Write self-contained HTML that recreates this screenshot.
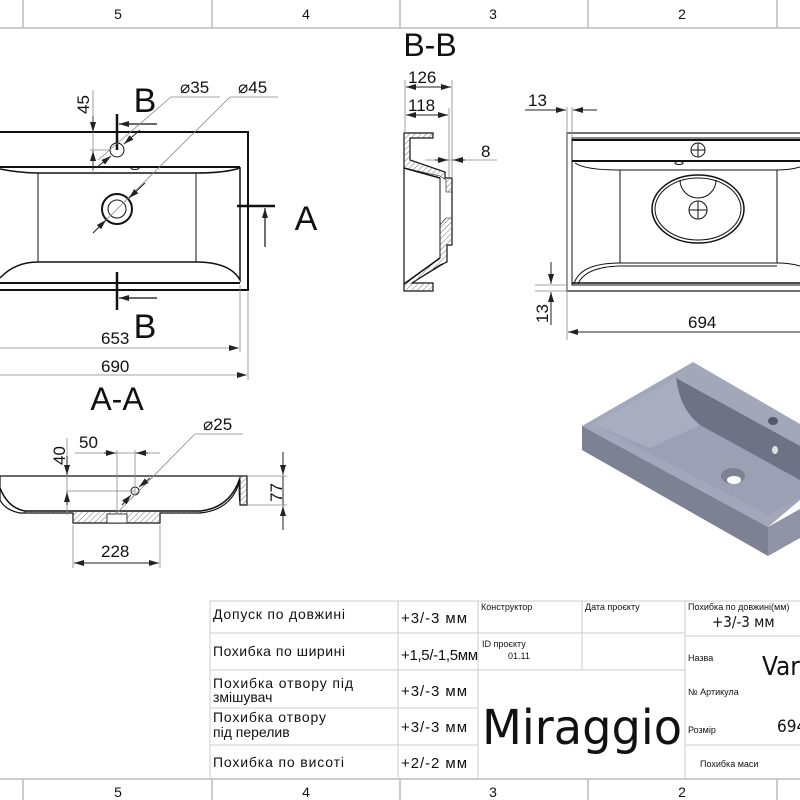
<!DOCTYPE html>
<html><head><meta charset="utf-8"><style>
html,body{margin:0;padding:0;background:#fff}
svg{display:block}
text{font-family:"Liberation Sans",sans-serif;fill:#111}
.t{font-family:"DejaVu Sans Condensed","DejaVu Sans","Liberation Sans",sans-serif}
</style></head><body>
<svg width="800" height="800" viewBox="0 0 800 800" xmlns="http://www.w3.org/2000/svg">
<defs>
<pattern id="h" width="4" height="4" patternUnits="userSpaceOnUse" patternTransform="rotate(45)">
<line x1="0" y1="0" x2="0" y2="4" stroke="#777" stroke-width="1"/></pattern>
<marker id="a" viewBox="0 0 10 6" refX="10" refY="3" markerWidth="10" markerHeight="6" orient="auto-start-reverse" markerUnits="userSpaceOnUse"><path d="M0,0L10,3L0,6z" fill="#222"/></marker>
</defs>
<g stroke="#bbb" stroke-width="1.5" fill="none">
<line x1="0" y1="28" x2="800" y2="28"/>
<line x1="23" y1="0" x2="23" y2="28"/><line x1="212" y1="0" x2="212" y2="28"/><line x1="400" y1="0" x2="400" y2="28"/><line x1="588" y1="0" x2="588" y2="28"/><line x1="777" y1="0" x2="777" y2="28"/>
<line x1="0" y1="779" x2="800" y2="779"/>
<line x1="23" y1="779" x2="23" y2="800"/><line x1="212" y1="779" x2="212" y2="800"/><line x1="400" y1="779" x2="400" y2="800"/><line x1="588" y1="779" x2="588" y2="800"/><line x1="777" y1="779" x2="777" y2="800"/>
</g>
<g font-size="14" text-anchor="middle">
<text x="118" y="19">5</text><text x="306" y="19">4</text><text x="493" y="19">3</text><text x="682" y="19">2</text>
<text x="118" y="797">5</text><text x="306" y="797">4</text><text x="493" y="797">3</text><text x="682" y="797">2</text>
</g>
<text x="430" y="56" font-size="32" text-anchor="middle">B-B</text>
<text x="117" y="410" font-size="32" text-anchor="middle">A-A</text>

<g stroke="#111" fill="none">
<rect x="-2" y="132" width="250" height="158" stroke-width="2"/>
<line x1="0" y1="167" x2="240" y2="167" stroke-width="2"/>
<path d="M0,169 Q20,173 38,173 L196,173 Q225,173 240,168" stroke-width="1.5"/>
<line x1="38" y1="173" x2="38" y2="262"/><line x1="196" y1="173" x2="196" y2="262"/>
<path d="M0,278 Q15,262 38,262 L196,262 Q230,262 240,280 L240,167" stroke-width="1.5"/>
<line x1="0" y1="283" x2="240" y2="283" stroke-width="2"/>
<circle cx="117" cy="150" r="7"/>
<circle cx="117" cy="209" r="15" stroke-width="2"/><circle cx="117" cy="209" r="9"/>
<ellipse cx="135" cy="168" rx="4" ry="1.5"/>
</g>
<g stroke="#111" stroke-width="2.5">
<line x1="117" y1="114" x2="117" y2="150"/><line x1="117" y1="272" x2="117" y2="310"/>
<line x1="237" y1="206" x2="275" y2="206"/>
</g>
<g stroke="#111" stroke-width="1.2" fill="none">
<line x1="157" y1="124" x2="119" y2="124" marker-end="url(#a)"/>
<line x1="157" y1="298" x2="119" y2="298" marker-end="url(#a)"/>
<line x1="265" y1="247" x2="265" y2="208" marker-end="url(#a)"/>
</g>
<text x="145" y="112" font-size="34" text-anchor="middle">B</text>
<text x="145" y="338" font-size="34" text-anchor="middle">B</text>
<text x="306" y="230" font-size="34" text-anchor="middle">A</text>
<g stroke="#888" stroke-width="0.8" fill="none">
<line x1="93" y1="90" x2="93" y2="175"/><line x1="90" y1="150" x2="110" y2="150"/>
<line x1="93" y1="116" x2="93" y2="132" stroke="#222" marker-end="url(#a)"/>
<line x1="93" y1="170" x2="93" y2="151" stroke="#222" marker-end="url(#a)"/>
<path d="M98,160 L171,97 L220,97"/><path d="M93,233 L230,97 L278,97"/>
<line x1="240" y1="285" x2="240" y2="352"/><line x1="248" y1="292" x2="248" y2="380"/>
<line x1="0" y1="348" x2="239" y2="348" marker-end="url(#a)"/>
<line x1="0" y1="375" x2="247" y2="375" marker-end="url(#a)"/>
</g>
<g stroke="#222" stroke-width="1" fill="none">
<line x1="140" y1="130" x2="124" y2="144" marker-end="url(#a)"/>
<line x1="96" y1="168" x2="111" y2="156" marker-end="url(#a)"/>
<line x1="145" y1="183" x2="129" y2="198" marker-end="url(#a)"/>
<line x1="93" y1="233" x2="106" y2="220" marker-end="url(#a)"/>
</g>
<text transform="translate(89,114) rotate(-90)" font-size="17">45</text>
<text x="180" y="93" font-size="17">⌀35</text><text x="238" y="93" font-size="17">⌀45</text>
<text x="101" y="344" font-size="17">653</text><text x="101" y="372" font-size="17">690</text>

<path d="M0,476 L247,476 L247,505 L240,505 L240,480 Q232,510 200,513 L160,513 L160,523 L73,523 L73,513 L20,513 Q5,510 0,500 Z" fill="none" stroke="#111" stroke-width="1.2"/>
<path d="M0,488 Q8,508 25,511 L200,511 Q230,508 240,478" fill="none" stroke="#111" stroke-width="1.5"/>
<path d="M25,511 L200,511 L200,513 L160,513 L160,523 L73,523 L73,513 L25,513Z" fill="url(#h)" stroke="#111" stroke-width="0.8"/>
<path d="M240,476 L247,476 L247,505 L240,505 Q238,490 240,478Z" fill="url(#h)" stroke="#111" stroke-width="0.8"/>
<rect x="107" y="514" width="20" height="9" fill="#fff" stroke="#111" stroke-width="0.8"/>
<circle cx="135" cy="491" r="4" fill="none" stroke="#111"/>
<g stroke="#888" stroke-width="0.8" fill="none">
<line x1="67" y1="438" x2="67" y2="515"/><line x1="67" y1="491" x2="135" y2="491"/>
<line x1="117" y1="450" x2="117" y2="513"/><line x1="135" y1="450" x2="135" y2="495"/>
<line x1="75" y1="453" x2="160" y2="453"/>
<path d="M117,513 L195,434 L243,434"/>
<line x1="248" y1="476" x2="287" y2="476"/><line x1="248" y1="505" x2="287" y2="505"/>
<line x1="73" y1="525" x2="73" y2="568"/><line x1="160" y1="525" x2="160" y2="568"/>
</g>
<g stroke="#222" stroke-width="1" fill="none">
<line x1="67" y1="456" x2="67" y2="475" marker-end="url(#a)"/>
<line x1="67" y1="505" x2="67" y2="492" marker-end="url(#a)"/>
<line x1="104" y1="453" x2="116" y2="453" marker-end="url(#a)"/>
<line x1="148" y1="453" x2="136" y2="453" marker-end="url(#a)"/>
<line x1="283" y1="452" x2="283" y2="475" marker-end="url(#a)"/>
<line x1="283" y1="530" x2="283" y2="506" marker-end="url(#a)"/>
<line x1="283" y1="476" x2="283" y2="505"/>
<line x1="150" y1="478" x2="139" y2="487" marker-end="url(#a)"/>
<line x1="122" y1="505" x2="131" y2="495" marker-end="url(#a)"/>
<line x1="117" y1="563" x2="74" y2="563" marker-end="url(#a)"/>
<line x1="117" y1="563" x2="159" y2="563" marker-end="url(#a)"/>
</g>
<text transform="translate(65,465) rotate(-90)" font-size="17">40</text>
<text x="79" y="448" font-size="17">50</text>
<text x="203" y="430" font-size="17">⌀25</text>
<text transform="translate(282,502) rotate(-90)" font-size="17">77</text>
<text x="101" y="557" font-size="17">228</text>

<path d="M404,133 L433,133 L433,138 L410,138 L410,160 L445,172 L445,178 L452,178 L452,245 L447,245 L447,262 L440,265 L412,283 L433,283 L433,291 L404,291 Z" fill="none" stroke="#111" stroke-width="1.2"/>
<path d="M404,133 L433,133 L433,138 L410,138 L410,160 L445,172 L445,178 L452,178 L452,192 L446,192 L446,180 L440,176 L404,168Z" fill="url(#h)" stroke="#111" stroke-width="0.6"/>
<path d="M446,218 L452,218 L452,245 L447,245 L447,262 L412,283 L433,283 L433,291 L404,291 L404,284 L440,258 L440,225Z" fill="url(#h)" stroke="#111" stroke-width="0.6"/>
<line x1="404" y1="168" x2="440" y2="178" stroke="#111" stroke-width="1.5"/>
<line x1="440" y1="178" x2="440" y2="258" stroke="#111"/>
<line x1="404" y1="284" x2="440" y2="258" stroke="#111" stroke-width="1.5"/>
<g stroke="#888" stroke-width="0.8" fill="none">
<line x1="405" y1="80" x2="405" y2="133"/><line x1="452" y1="80" x2="452" y2="178"/><line x1="449" y1="108" x2="449" y2="178"/>
<line x1="425" y1="160" x2="497" y2="160"/>
</g>
<g stroke="#222" stroke-width="1" fill="none">
<line x1="428" y1="87" x2="406" y2="87" marker-end="url(#a)"/><line x1="428" y1="87" x2="451" y2="87" marker-end="url(#a)"/>
<line x1="428" y1="115" x2="406" y2="115" marker-end="url(#a)"/><line x1="428" y1="115" x2="448" y2="115" marker-end="url(#a)"/>
<line x1="435" y1="160" x2="448" y2="160" marker-end="url(#a)"/><line x1="465" y1="160" x2="453" y2="160" marker-end="url(#a)"/>
</g>
<text x="408" y="83" font-size="17">126</text><text x="408" y="111" font-size="17">118</text><text x="481" y="157" font-size="17">8</text>

<g stroke="#111" fill="none">
<rect x="567" y="133" width="240" height="158" stroke-width="1.2"/>
<rect x="572" y="138" width="240" height="147" stroke-width="1"/>
<line x1="572" y1="140" x2="800" y2="140" stroke-width="2"/>
<line x1="572" y1="161" x2="800" y2="161" stroke-width="2"/>
<path d="M575,163 Q585,170 620,170 L777,170 Q790,170 800,167"/>
<line x1="620" y1="170" x2="620" y2="263"/><line x1="777" y1="170" x2="777" y2="263"/>
<path d="M574,284 Q580,263 620,263 L777,263 Q790,263 800,266"/>
<path d="M578,284 Q585,267 620,266 L777,266"/>
<line x1="572" y1="283" x2="800" y2="283" stroke-width="1.5"/>
<ellipse cx="698" cy="209" rx="46" ry="34" stroke-width="1.5"/><ellipse cx="698" cy="209" rx="43" ry="31"/>
<path d="M680,180 A18,18 0 0 0 716,180"/>
<circle cx="698" cy="150" r="7"/><line x1="691" y1="150" x2="705" y2="150"/><line x1="698" y1="143" x2="698" y2="157"/>
<circle cx="698" cy="210" r="9"/><line x1="689" y1="210" x2="707" y2="210"/><line x1="698" y1="201" x2="698" y2="219"/>
<ellipse cx="679" cy="163" rx="4" ry="1.5"/>
</g>
<g stroke="#888" stroke-width="0.8" fill="none">
<line x1="567" y1="107" x2="567" y2="340"/><line x1="572" y1="107" x2="572" y2="138"/>
<line x1="535" y1="285" x2="567" y2="285"/><line x1="535" y1="291" x2="567" y2="291"/>
</g>
<g stroke="#222" stroke-width="1" fill="none">
<line x1="525" y1="110" x2="566" y2="110" marker-end="url(#a)"/><line x1="597" y1="110" x2="573" y2="110" marker-end="url(#a)"/>
<line x1="551" y1="262" x2="551" y2="284" marker-end="url(#a)"/><line x1="551" y1="325" x2="551" y2="292" marker-end="url(#a)"/>
<line x1="700" y1="332" x2="568" y2="332" marker-end="url(#a)"/><line x1="700" y1="332" x2="800" y2="332"/>
</g>
<text x="528" y="106" font-size="17">13</text>
<text transform="translate(548,323) rotate(-90)" font-size="17">13</text>
<text x="688" y="328" font-size="17">694</text>

<polygon points="582,426 693,362 800,424 800,500 768,527" fill="#a3a7ba"/>
<polygon points="582,426 768,527 768,556 582,450" fill="#7d8194"/>
<polygon points="768,527 800,509 800,538 768,556" fill="#8f93a5"/>
<polygon points="593,424 676,378 800,446 800,498 768,515" fill="#9ca0b4"/>
<path d="M676,378 Q680,410 700,425 L800,480 L800,446 Z" fill="#6e7284"/>
<path d="M593,424 L676,378 Q680,410 700,425 L650,448 Z" fill="#a9adc0"/>
<ellipse cx="733" cy="476" rx="12" ry="8" fill="#7d8194"/><ellipse cx="734" cy="480" rx="7" ry="4" fill="#fff"/>
<ellipse cx="773" cy="421" rx="5" ry="4" fill="#555a6a"/>
<ellipse cx="775" cy="450" rx="3" ry="4" fill="#ddd"/>

<g stroke="#ccc" stroke-width="1" fill="none">
<line x1="210" y1="601" x2="800" y2="601"/>
<line x1="210" y1="633" x2="478" y2="633"/><line x1="210" y1="670" x2="685" y2="670"/>
<line x1="210" y1="708" x2="478" y2="708"/><line x1="210" y1="745" x2="478" y2="745"/>
<line x1="478" y1="633" x2="685" y2="633"/>
<line x1="210" y1="601" x2="210" y2="779"/><line x1="398" y1="601" x2="398" y2="779"/>
<line x1="478" y1="601" x2="478" y2="779"/><line x1="582" y1="601" x2="582" y2="670"/>
<line x1="685" y1="601" x2="685" y2="779"/>
<line x1="685" y1="636" x2="800" y2="636"/><line x1="685" y1="745" x2="800" y2="745"/>
</g>
<g class="t" font-size="14">
<text x="213" y="619" textLength="132">Допуск по довжині</text>
<text x="213" y="656" textLength="132">Похибка по ширині</text>
<text x="213" y="688" textLength="140">Похибка отвору під</text><text x="213" y="702">змішувач</text>
<text x="213" y="722" textLength="113">Похибка отвору</text><text x="213" y="737">під перелив</text>
<text x="213" y="767" textLength="131">Похибка по висоті</text>
</g>
<g class="t" font-size="15">
<text x="401" y="623" textLength="66">+3/-3 мм</text><text x="401" y="660" textLength="77">+1,5/-1,5мм</text>
<text x="401" y="696" textLength="66">+3/-3 мм</text><text x="401" y="732" textLength="66">+3/-3 мм</text><text x="401" y="768" textLength="66">+2/-2 мм</text>
</g>
<g class="t" font-size="9">
<text x="481" y="610">Конструктор</text><text x="585" y="610">Дата проєкту</text>
<text x="688" y="610">Похибка по довжині(мм)</text>
<text x="482" y="647">ID проєкту</text><text x="508" y="659">01.11</text>
<text x="688" y="661">Назва</text><text x="688" y="695">№ Артикула</text>
<text x="688" y="733">Розмір</text><text x="700" y="767">Похибка маси</text>
</g>
<text class="t" x="712" y="627" font-size="15">+3/-3 мм</text>
<text class="t" x="762" y="675" font-size="26">Var</text>
<text class="t" x="777" y="732" font-size="17">694</text>
<text class="t" x="482" y="744" font-size="48" textLength="200" lengthAdjust="spacingAndGlyphs">Miraggio</text>
</svg>
</body></html>
